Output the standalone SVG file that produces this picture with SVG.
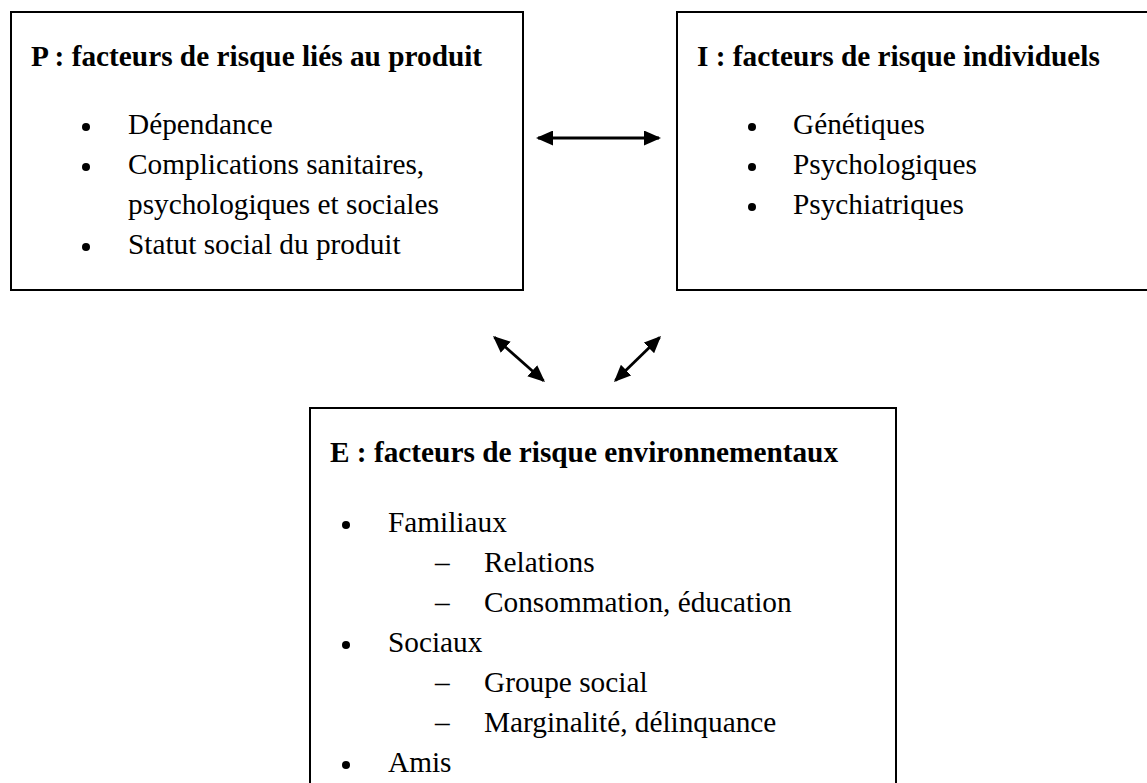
<svg xmlns="http://www.w3.org/2000/svg" width="1147" height="783" viewBox="0 0 1147 783">
<defs>
<style>
.box{fill:#fff;stroke:#000;stroke-width:2}
.t{font-family:"Liberation Serif","Times New Roman",serif;font-size:29.3px;fill:#000}
.b{font-weight:bold}
.dot{fill:#000}
.arr{stroke:#000;stroke-width:2.8;fill:none;marker-start:url(#ah);marker-end:url(#ah)}
</style>
<marker id="ah" markerUnits="userSpaceOnUse" markerWidth="17" markerHeight="15" refX="15" refY="7.5" orient="auto-start-reverse" viewBox="0 0 17 15">
<path d="M0,0 L17,7.5 L0,15 Z" fill="#000"/>
</marker>
</defs>
<rect width="1147" height="783" fill="#fff"/>
<g id="node-P">
<rect class="box" x="11" y="12" width="512" height="278"/>
<text class="t b" x="31" y="66">P : facteurs de risque liés au produit</text>
<circle class="dot" cx="86" cy="127" r="4"/>
<text class="t" x="128" y="134">Dépendance</text>
<circle class="dot" cx="86" cy="167" r="4"/>
<text class="t" x="128" y="174">Complications sanitaires,</text>
<text class="t" x="128" y="214">psychologiques et sociales</text>
<circle class="dot" cx="86" cy="247" r="4"/>
<text class="t" x="128" y="254">Statut social du produit</text>
</g>
<g id="node-I">
<rect class="box" x="677" y="12" width="480" height="278"/>
<text class="t b" x="697" y="66">I : facteurs de risque individuels</text>
<circle class="dot" cx="752" cy="127" r="4"/>
<text class="t" x="793" y="134">Génétiques</text>
<circle class="dot" cx="752" cy="167" r="4"/>
<text class="t" x="793" y="174">Psychologiques</text>
<circle class="dot" cx="752" cy="207" r="4"/>
<text class="t" x="793" y="214">Psychiatriques</text>
</g>
<g id="node-E">
<rect class="box" x="310" y="408" width="586" height="400"/>
<text class="t b" x="330" y="462">E : facteurs de risque environnementaux</text>
<circle class="dot" cx="346" cy="525" r="4"/>
<text class="t" x="388" y="532">Familiaux</text>
<text class="t" x="435" y="572">–</text>
<text class="t" x="484" y="572">Relations</text>
<text class="t" x="435" y="612">–</text>
<text class="t" x="484" y="612">Consommation, éducation</text>
<circle class="dot" cx="346" cy="645" r="4"/>
<text class="t" x="388" y="652">Sociaux</text>
<text class="t" x="435" y="692">–</text>
<text class="t" x="484" y="692">Groupe social</text>
<text class="t" x="435" y="732">–</text>
<text class="t" x="484" y="732">Marginalité, délinquance</text>
<circle class="dot" cx="346" cy="765" r="4"/>
<text class="t" x="388" y="772">Amis</text>
</g>
<g id="connectors">
<line class="arr" x1="538" y1="138" x2="659" y2="138"/>
<line class="arr" x1="494.5" y1="337.3" x2="543.5" y2="380.7"/>
<line class="arr" x1="659.6" y1="337.4" x2="615.4" y2="380.6"/>
</g>
</svg>
